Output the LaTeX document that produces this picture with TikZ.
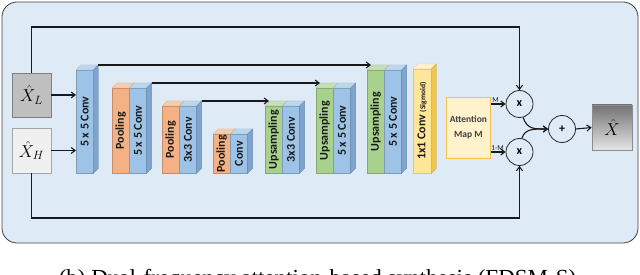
\documentclass[tikz,border=0pt]{standalone}
\usepackage{fontspec}
\setmainfont{Carlito}
\newfontfamily\capfont{Liberation Serif}
\usetikzlibrary{arrows.meta,calc}
\definecolor{bgblue}{HTML}{DEEBF7}
\definecolor{cblue}{HTML}{9DC3E6}
\definecolor{cbluetop}{HTML}{BDD7EE}
\definecolor{cblueside}{HTML}{7FA3CF}
\definecolor{corange}{HTML}{F4B183}
\definecolor{corangetop}{HTML}{F8CBAD}
\definecolor{cgreen}{HTML}{A9D18E}
\definecolor{cgreentop}{HTML}{C5E0B4}
\definecolor{cyellow}{HTML}{FFE699}
\definecolor{cyellowtop}{HTML}{FFF2CC}
\definecolor{cyellowside}{HTML}{EFC54A}
\definecolor{attfill}{HTML}{FFF2CC}
\definecolor{attdraw}{HTML}{F2C24A}
\definecolor{txtdark}{HTML}{1A1A1A}
\newcommand\blktop[2]{\filldraw[fill=#2, draw=#2!85!black, line width=0.3pt] (#1.north west) -- ++(5,-5) -- ($(#1.north east)+(5,-5)$) -- (#1.north east) -- cycle;}
\newcommand\blkside[2]{\filldraw[fill=#2, draw=#2!85!black, line width=0.3pt] (#1.north east) -- ++(5,-5) -- ($(#1.south east)+(5,-5)$) -- (#1.south east) -- cycle;}
\begin{document}
\begin{tikzpicture}[x=1pt,y=-1pt,
  blk/.style={draw=#1!80!black, fill=#1, line width=0.3pt, minimum width=17pt, inner sep=0pt, anchor=north west,
    text=txtdark, font=\bfseries\fontsize{12}{12}\selectfont},
  conn/.style={line width=1.1pt, draw=black!90, -{Straight Barb[length=4pt,width=6pt]}},
  op/.style={circle, draw=black!85, line width=0.8pt, minimum size=27pt, inner sep=0pt, fill=bgblue,
    font=\bfseries\fontsize{12}{12}\selectfont},
  inbox/.style={draw=#1, line width=0.8pt, minimum width=39pt, inner sep=0pt, font=\fontsize{18}{18}\selectfont},
  lbl/.style={font=\fontsize{7.5}{7.5}\selectfont, inner sep=1pt, text=txtdark}]
\useasboundingbox (0,0) rectangle (640,275);
% frame
\draw[draw=black!75, line width=0.8pt, fill=bgblue, rounded corners=15pt] (2,2) rectangle (638,243);
% inputs
\node[inbox=black!50, fill=black!25, minimum height=44pt] (XL) at (31.5,95) {$\hat{X}_L$};
\node[inbox=black!35, fill=black!6, minimum height=45pt] (XH) at (31.5,150.5) {$\hat{X}_H$};
% encoder
\node[blk=cblue, minimum height=103pt] (c1) at (76,70) {\rotatebox{90}{5 x 5 Conv}};
\blktop{c1}{cbluetop}\blkside{c1}{cblueside}
\node[blk=corange, minimum height=85pt] (p2) at (112,88) {\rotatebox{90}{Pooling}};
\node[blk=cblue, minimum height=85pt] (c2) at (p2.north east) {\rotatebox{90}{5 x 5 Conv}};
\blktop{p2}{corangetop}\blktop{c2}{cbluetop}\blkside{c2}{cblueside}
\node[blk=corange, minimum height=67pt] (p3) at (162,106) {\rotatebox{90}{Pooling}};
\node[blk=cblue, minimum height=67pt] (c3) at (p3.north east) {\rotatebox{90}{3x3 Conv}};
\blktop{p3}{corangetop}\blktop{c3}{cbluetop}\blkside{c3}{cblueside}
\node[blk=corange, minimum height=39pt] (p4) at (213,134) {\rotatebox{90}{Pooling}};
\node[blk=cblue, minimum height=39pt] (c4) at (p4.north east) {\rotatebox{90}{Conv}};
\blktop{p4}{corangetop}\blktop{c4}{cbluetop}\blkside{c4}{cblueside}
% decoder
\node[blk=cgreen, minimum height=67pt] (u1) at (265,106) {\rotatebox{90}{Upsampling}};
\node[blk=cblue, minimum height=67pt] (d1) at (u1.north east) {\rotatebox{90}{3x3 Conv}};
\blktop{u1}{cgreentop}\blktop{d1}{cbluetop}\blkside{d1}{cblueside}
\node[blk=cgreen, minimum height=85pt] (u2) at (316,88) {\rotatebox{90}{Upsampling}};
\node[blk=cblue, minimum height=85pt] (d2) at (u2.north east) {\rotatebox{90}{5 x 5 Conv}};
\blktop{u2}{cgreentop}\blktop{d2}{cbluetop}\blkside{d2}{cblueside}
\node[blk=cgreen, minimum height=103pt] (u3) at (367,70) {\rotatebox{90}{Upsampling}};
\node[blk=cblue, minimum height=103pt] (d3) at (u3.north east) {\rotatebox{90}{5 x 5 Conv}};
\blktop{u3}{cgreentop}\blktop{d3}{cbluetop}\blkside{d3}{cblueside}
\node[blk=cyellow, minimum width=18pt, minimum height=104pt, draw=cyellowside] (s1) at (413,69)
  {\rotatebox{90}{1x1 Conv {\fontsize{7.5}{7.5}\selectfont(Sigmoid)}}};
\blktop{s1}{cyellowtop}\blkside{s1}{cyellowside}
% attention map
\node[draw=attdraw, fill=attfill, line width=0.8pt, minimum width=44pt, minimum height=61pt, anchor=north west,
  align=center, font=\bfseries\fontsize{9.5}{15}\selectfont, text=black!75, inner sep=0pt] (att) at (446,97) {Attention\\Map M};
% operators
\node[op] (m1) at (519.5,104) {x};
\node[op] (m2) at (519.5,152) {x};
\node[op] (pl) at (562,129) {+};
\node[draw=black!45, line width=0.6pt, top color=black!55, bottom color=black!10, minimum width=40pt, minimum height=45pt,
  inner sep=0pt, font=\fontsize{18}{18}\selectfont] (xo) at (612,127.5) {$\hat{X}$};
% connectors
\coordinate (topy) at (0,27);
\coordinate (boty) at (0,218);
\draw[conn] (XL.east) -- (XL.east -| c1.west);
\draw[conn] (XH.east) -- (XH.east -| c1.west);
\draw[conn] (XL.north) -- (XL.north |- topy) -| (m1.north);
\draw[conn] (XH.south) -- (XH.south |- boty) -| (m2.south);
\draw[conn] ($(c1.north east)+(5,-5)$) -- ($(u3.north west)+(4,-5)$);
\draw[conn] ($(c2.north east)+(5,-5)$) -- ($(u2.north west)+(4,-5)$);
\draw[conn] ($(c3.north east)+(5,-5)$) -- ($(u1.north west)+(4,-5)$);
\draw[conn] (att.east |- m1) -- node[lbl, pos=0.0, anchor=south west] {M} (m1.west);
\draw[conn] (att.east |- m2) -- node[lbl, pos=0.0, anchor=south west, xshift=-1pt] {1-M} (m2.west);
\draw[conn] (m1.-75) .. controls +(4,12) and +(-14,0) .. (pl.west);
\draw[conn] (m2.80) .. controls +(3,-10) and +(-14,0) .. (pl.west);
\draw[conn] (pl.east) -- (xo.west);
% caption
\node[font=\capfont\fontsize{23}{23}\selectfont, anchor=base, inner sep=0pt] (cap) at (317.5,285)
  {(b) Dual-frequency attention-based synthesis (FDSM-S)};
\end{tikzpicture}
\end{document}
